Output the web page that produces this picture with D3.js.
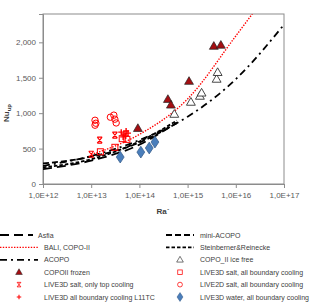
<!DOCTYPE html>
<html>
<head>
<meta charset="utf-8">
<title>Nu_up vs Ra'</title>
<script src="https://d3js.org/d3.v7.min.js"></script>
<style>
  body { margin: 0; background: #fff; }
  text { font-family: "Liberation Sans", Arial, sans-serif; }
</style>
</head>
<body>
<script>
var width = 333, height = 306

// axis ticks
var xTicks = [1e12, 1e13, 1e14, 1e15, 1e16, 1e17]
var yTicks = [0, 500, 1000, 1500, 2000]

// correlations as [Ra', Nu_up]
var asfia = [[1e12, 210], [1e13, 330], [1e14, 555], [6e14, 870]]
var miniAcopo = [[1e12, 290], [1e13, 385], [1e14, 585], [6e14, 860]]
var steinberner = [[1e12, 235], [1e13, 350], [1e14, 600], [6e14, 895]]
var acopo = [[1e12, 255], [1e13, 395], [1e14, 620], [1e15, 950], [1e16, 1480], [1e17, 2250]]
var bali = [[1e13, 415], [1e14, 700], [1e15, 1200], [1e16, 2090], [2.2e16, 2400]]

// experiments
var copoFrozen = [[9.3e13, 785], [3.9e14, 1195], [4.5e14, 1115], [1.07e15, 1450], [3.5e15, 1945], [4.9e15, 1960]]
var copoIceFree = [[5.3e14, 985], [1.17e15, 1155], [1.8e15, 1240], [1.95e15, 1285], [4.0e15, 1480], [4.2e15, 1575]]
var live3dSaltAll = [[1.55e13, 455], [3.1e13, 518], [4.4e13, 640], [5.5e13, 630]]
var live2dSalt = [[1.2e13, 900], [1.25e13, 858], [1.2e13, 830], [2.5e13, 943], [2.95e13, 972], [3.1e13, 915], [3.3e13, 862]]
var live3dSaltTop = [[1.0e13, 420], [1.5e13, 620], [3.1e13, 690]]
var live3dL11TC = [[4.2e13, 732], [4.8e13, 705], [5.3e13, 748], [5.8e13, 718], [4.6e13, 665], [5.2e13, 678]]
var live3dWater = [[4.0e13, 380], [1.07e14, 450], [1.6e14, 508], [2.1e14, 592]]

var svg = d3.select("body").append("svg")
  .attr("width", width)
  .attr("height", height)

var x = d3.scaleLog().domain([1e12, 1e17]).range([43, 284])
var y = d3.scaleLinear().domain([0, 2400]).range([184, 14])

svg.append("defs").append("clipPath").attr("id", "plot")
  .append("rect").attr("x", 43).attr("y", 14).attr("width", 241).attr("height", 170)

// plot frame
svg.append("rect")
  .attr("x", 43).attr("y", 14).attr("width", 241).attr("height", 170)
  .attr("fill", "none").attr("stroke", "#8c8c8c").attr("stroke-width", 1)

// axes
var xAxis = d3.axisBottom(x).tickValues(xTicks).tickSize(4)
  .tickFormat(d => "1,0E+" + Math.round(Math.log10(d)))
var gx = svg.append("g").attr("transform", "translate(0,184)").call(xAxis)
var yAxis = d3.axisLeft(y).tickValues(yTicks).tickSize(4)
var gy = svg.append("g").attr("transform", "translate(43,0)").call(yAxis)
;[gx, gy].forEach(function(g) {
  g.select(".domain").attr("stroke", "#8c8c8c")
  g.selectAll(".tick line").attr("stroke", "#8c8c8c")
  g.selectAll(".tick text").attr("fill", "#595959").style("font-size", "8px")
})
gx.selectAll(".tick text").attr("dy", "0.9em")

// axis titles
var yt = svg.append("text")
  .attr("transform", "translate(9,113) rotate(-90)")
  .attr("text-anchor", "middle")
  .attr("fill", "#404040").style("font-size", "8px").style("font-weight", "bold")
yt.append("tspan").text("Nu")
yt.append("tspan").attr("dy", 2).style("font-size", "6px").text("up")
svg.append("text").attr("x", 163).attr("y", 214)
  .attr("text-anchor", "middle")
  .attr("fill", "#404040").style("font-size", "8px").style("font-weight", "bold")
  .text("Ra´")

// curves
var line = d3.line().x(d => x(d[0])).y(d => y(d[1])).curve(d3.curveMonotoneX)
var curves = [
  {data: asfia, color: "#000", w: 1.8, dash: "9,5"},
  {data: miniAcopo, color: "#000", w: 1.8, dash: "6,3"},
  {data: steinberner, color: "#000", w: 1.8, dash: "3.5,2"},
  {data: acopo, color: "#000", w: 1.8, dash: "7,4,2,4"},
  {data: bali, color: "#ff0000", w: 1.4, dash: "1.4,1.4"}
]
var gc = svg.append("g").attr("clip-path", "url(#plot)")
curves.forEach(function(c) {
  gc.append("path").attr("d", line(c.data))
    .attr("fill", "none").attr("stroke", c.color)
    .attr("stroke-width", c.w).attr("stroke-dasharray", c.dash)
})

// marker drawing
function marker(g, type, cx, cy) {
  if (type == "triUp") {
    g.append("path").attr("d", d3.symbol(d3.symbolTriangle, 34)())
      .attr("transform", "translate(" + cx + "," + (cy + 0.5) + ")")
      .attr("fill", "#a50e12").attr("stroke", "#222").attr("stroke-width", 0.7)
  } else if (type == "triOpen") {
    g.append("path").attr("d", d3.symbol(d3.symbolTriangle, 34)())
      .attr("transform", "translate(" + cx + "," + (cy + 0.5) + ")")
      .attr("fill", "#fff").attr("stroke", "#333").attr("stroke-width", 0.9)
  } else if (type == "square") {
    g.append("rect").attr("x", cx - 3).attr("y", cy - 3).attr("width", 6).attr("height", 6)
      .attr("fill", "none").attr("stroke", "#ff0000").attr("stroke-width", 1)
  } else if (type == "circle") {
    g.append("circle").attr("cx", cx).attr("cy", cy).attr("r", 3.2)
      .attr("fill", "none").attr("stroke", "#ff0000").attr("stroke-width", 1)
  } else if (type == "star") {
    g.append("path")
      .attr("d", "M" + (cx - 2.5) + "," + (cy - 3) + "L" + (cx + 2.5) + "," + (cy + 3) +
        "M" + (cx + 2.5) + "," + (cy - 3) + "L" + (cx - 2.5) + "," + (cy + 3) +
        "M" + (cx - 2.5) + "," + (cy - 3) + "H" + (cx + 2.5) +
        "M" + (cx - 2.5) + "," + (cy + 3) + "H" + (cx + 2.5))
      .attr("fill", "none").attr("stroke", "#ff0000").attr("stroke-width", 1.1)
  } else if (type == "plus") {
    g.append("path")
      .attr("d", "M" + (cx - 3) + "," + cy + "H" + (cx + 3) + "M" + cx + "," + (cy - 3) + "V" + (cy + 3))
      .attr("fill", "none").attr("stroke", "#ff0000").attr("stroke-width", 1.4)
  } else if (type == "diamond") {
    g.append("path").attr("d", d3.symbol(d3.symbolDiamond, 40)())
      .attr("transform", "translate(" + cx + "," + cy + ") scale(1.15,1)")
      .attr("fill", "#4a7ebb").attr("stroke", "#385d8a").attr("stroke-width", 0.7)
  }
}

var series = [
  {data: live3dWater, type: "diamond"},
  {data: live3dSaltAll, type: "square"},
  {data: live2dSalt, type: "circle"},
  {data: live3dSaltTop, type: "star"},
  {data: live3dL11TC, type: "plus"},
  {data: copoIceFree, type: "triOpen"},
  {data: copoFrozen, type: "triUp"}
]
var gp = svg.append("g")
series.forEach(function(s) {
  s.data.forEach(function(d) { marker(gp, s.type, x(d[0]), y(d[1])) })
})

// legend
var legendLeft = [
  {name: "Asfia", line: curves[0], tx: 38, x1: 33},
  {name: "BALI, COPO-II", line: curves[4]},
  {name: "ACOPO", line: curves[3]},
  {name: "COPOII frozen", type: "triUp"},
  {name: "LIVE3D salt, only top cooling", type: "star"},
  {name: "LIVE3D all boundary cooling L11TC", type: "plus"}
]
var legendRight = [
  {name: "mini-ACOPO", line: curves[1]},
  {name: "Steinberner&Reinecke", line: curves[2]},
  {name: "COPO_II ice free", type: "triOpen"},
  {name: "LIVE3D salt, all boundary cooling", type: "square"},
  {name: "LIVE2D salt, all boundary cooling", type: "circle"},
  {name: "LIVE3D water, all boundary cooling", type: "diamond"}
]
function drawLegend(items, x0, x1, tx) {
  var lg = svg.append("g")
  items.forEach(function(it, i) {
    var ly = 235 + i * 12.4
    var mx = (x0 + x1) / 2
    if (it.line) {
      lg.append("line").attr("x1", x0).attr("x2", it.x1 || x1).attr("y1", ly).attr("y2", ly)
        .attr("stroke", it.line.color).attr("stroke-width", it.line.w)
        .attr("stroke-dasharray", it.line.dash)
    } else {
      var g = lg.append("g").attr("transform", "translate(" + mx + "," + ly + ") scale(0.75) translate(" + (-mx) + "," + (-ly) + ")")
      marker(g, it.type, mx, ly)
    }
    lg.append("text").attr("x", it.tx || tx).attr("y", ly + 2.6)
      .attr("fill", "#404040").style("font-size", "7px").text(it.name)
  })
}
drawLegend(legendLeft, 0, 38, 44)
drawLegend(legendRight, 166, 194, 200)
</script>
</body>
</html>
